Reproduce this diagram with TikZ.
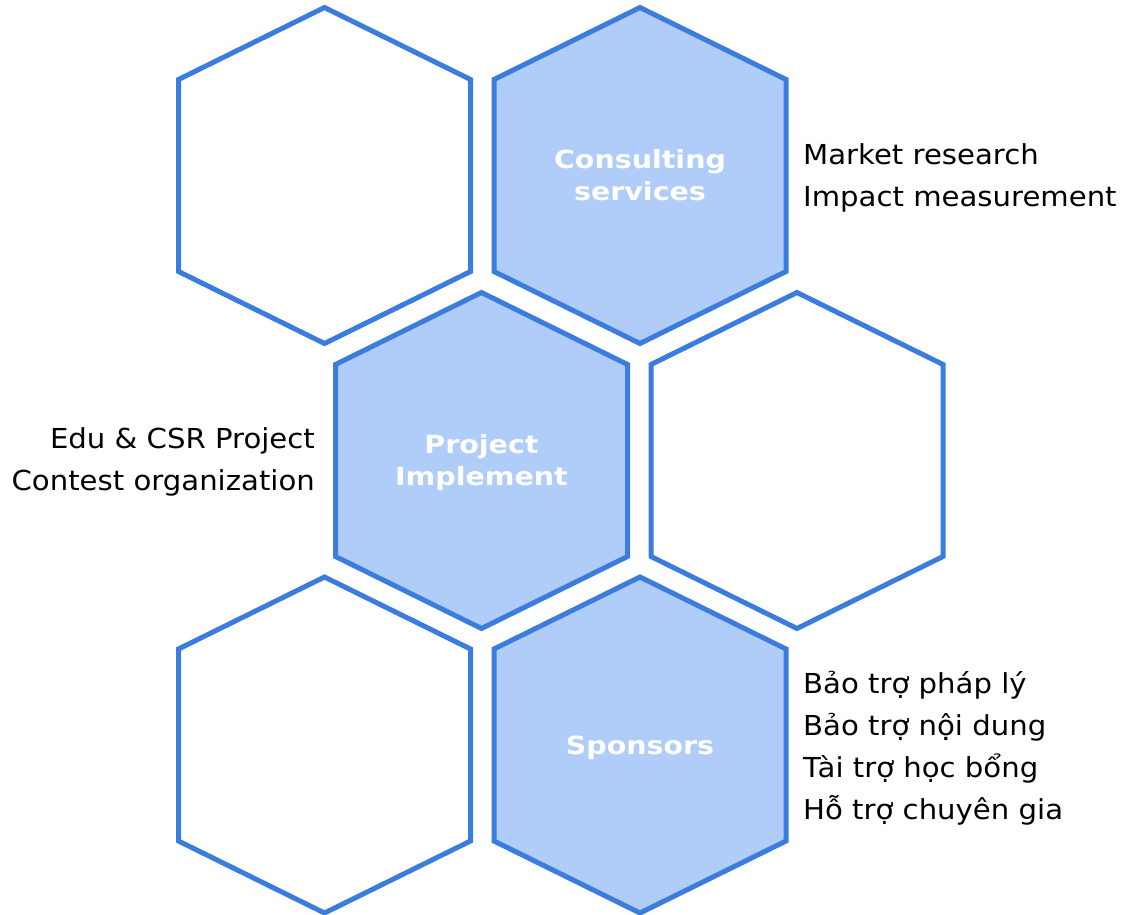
\documentclass[tikz,border=0pt]{standalone}
\usepackage{fontspec}
\setmainfont{DejaVu Sans}
\newfontfamily\sidefont[FakeStretch=1.06]{DejaVu Sans}
\newfontfamily\hexfont[FakeStretch=1.14]{DejaVu Sans Bold}
\definecolor{hexblue}{RGB}{59,125,221}
\definecolor{hexfill}{RGB}{176,205,250}
\newcommand\hexshape[2]{(#1,#2) -- ++(146,72) -- ++(0,192) -- ++(-146,72) -- ++(-146,-72) -- ++(0,-192) -- cycle}
\begin{document}
\begin{tikzpicture}[x=1pt,y=-1pt,
  hexline/.style={draw=hexblue, line width=5pt, line join=miter},
  hexfilled/.style={hexline, fill=hexfill},
  hexlabel/.style={font=\hexfont\fontsize{25}{32}\selectfont, text=white, align=center, inner sep=0pt},
  sidetext/.style={font=\sidefont\fontsize{27.5}{42}\selectfont, text=black, inner sep=0pt}]
\useasboundingbox (0,0) rectangle (1125,915);
% hexagons
\draw[hexline] \hexshape{324.5}{7.5};
\draw[hexfilled] \hexshape{640}{7.5};
\draw[hexfilled] \hexshape{481.5}{292.5};
\draw[hexline] \hexshape{797}{292.5};
\draw[hexline] \hexshape{324.5}{577};
\draw[hexfilled] \hexshape{640}{577};
% labels
\node[hexlabel] (consult) at (640,175) {Consulting\\services};
\node[hexlabel] (project) at (481.5,462.5) {Project\\Implement};
\node[hexlabel] (sponsors) at (640,748) {Sponsors};
% side texts
\node[sidetext, align=left, anchor=west] (consultlist) at (803,178) {Market research\\Impact measurement};
\node[sidetext, align=right, anchor=east] (projectlist) at (315,462) {Edu \& CSR Project\\Contest organization};
\node[sidetext, align=left, anchor=west] (sponsorlist) at (803,748) {Bảo trợ pháp lý\\Bảo trợ nội dung\\Tài trợ học bổng\\Hỗ trợ chuyên gia};
\end{tikzpicture}
\end{document}
